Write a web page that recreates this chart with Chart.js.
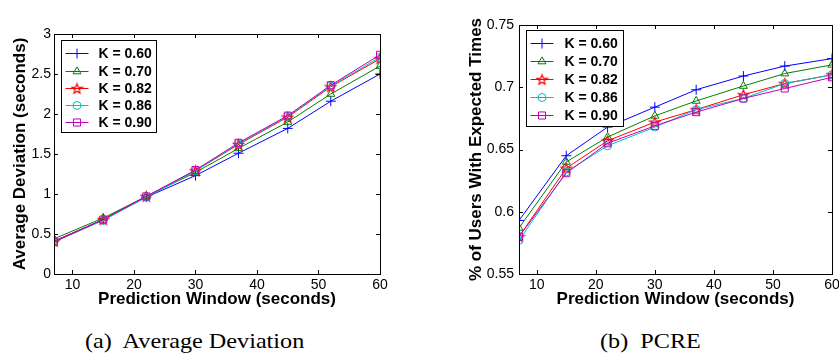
<!DOCTYPE html>
<html>
<head>
<meta charset="utf-8">
<script src="https://cdn.jsdelivr.net/npm/chart.js@4/dist/chart.umd.min.js"></script>
<style>
  html, body { margin: 0; padding: 0; background: #fff; }
  body { width: 839px; height: 358px; position: relative; overflow: hidden; }
  canvas { position: absolute; top: 0; }
  #devChart { left: 0; }
  #pcreChart { left: 418px; }
  .caption {
    position: absolute; top: 328px;
    font-family: "Liberation Serif", "Times New Roman", serif;
    font-size: 22px; color: #000; white-space: pre;
    transform: scaleX(1.1); transform-origin: left top;
  }
</style>
</head>
<body>
<canvas id="devChart" width="418" height="320"></canvas>
<canvas id="pcreChart" width="430" height="320"></canvas>
<div class="caption" style="left:85px">(a)  Average Deviation</div>
<div class="caption" style="left:600px">(b)  PCRE</div>

<script>
// ---- DATA ----
const windows = [7, 15, 22, 30, 37, 45, 52, 60];
const kLabels = ["K = 0.60", "K = 0.70", "K = 0.82", "K = 0.86", "K = 0.90"];
const xTicks = [10, 20, 30, 40, 50, 60];

// (a) average deviation (seconds)
const devK060 = [0.41, 0.68, 0.96, 1.23, 1.51, 1.82, 2.16, 2.50];
const devK070 = [0.44, 0.70, 0.97, 1.27, 1.57, 1.90, 2.25, 2.60];
const devK082 = [0.41, 0.68, 0.97, 1.29, 1.62, 1.96, 2.34, 2.69];
const devK086 = [0.40, 0.67, 0.96, 1.29, 1.63, 1.97, 2.35, 2.71];
const devK090 = [0.40, 0.68, 0.97, 1.30, 1.64, 1.98, 2.36, 2.74];
const devTicks = [0, 0.5, 1, 1.5, 2, 2.5, 3];

// (b) PCRE
const pcreK060 = [0.593, 0.645, 0.668, 0.684, 0.698, 0.709, 0.717, 0.723];
const pcreK070 = [0.587, 0.640, 0.660, 0.677, 0.689, 0.701, 0.711, 0.718];
const pcreK082 = [0.580, 0.635, 0.657, 0.672, 0.682, 0.694, 0.703, 0.710];
const pcreK086 = [0.577, 0.632, 0.653, 0.668, 0.682, 0.691, 0.703, 0.710];
const pcreK090 = [0.580, 0.631, 0.655, 0.669, 0.680, 0.691, 0.699, 0.708];
const pcreTicks = [0.55, 0.6, 0.65, 0.7, 0.75];

// ---- STYLE ----
const colors = ["#0000ff", "#008000", "#ff0000", "#00bfbf", "#bf00bf"];
const FONT = "Arial, 'Liberation Sans', sans-serif";

function makeStar(color) {
  const c = document.createElement("canvas");
  c.width = 13; c.height = 13;
  const g = c.getContext("2d");
  g.strokeStyle = color;
  g.lineWidth = 1.2;
  g.beginPath();
  for (let k = 0; k < 10; k++) {
    const r = k % 2 ? 2.2 : 5.2;
    const a = -Math.PI / 2 + k * Math.PI / 5;
    const px = 6.5 + r * Math.cos(a), py = 7 + r * Math.sin(a);
    if (k) g.lineTo(px, py); else g.moveTo(px, py);
  }
  g.closePath();
  g.stroke();
  return c;
}

const markers = ["cross", "triangle", makeStar("#ff0000"), "circle", "rect"];
const radii = [5, 4.6, 5, 4, 5];

function buildDatasets(series) {
  return series.map((vals, i) => ({
    label: kLabels[i],
    data: vals.map((v, j) => ({ x: windows[j], y: v })),
    borderColor: colors[i],
    backgroundColor: "rgba(0,0,0,0)",
    borderWidth: 1,
    pointStyle: markers[i],
    pointRadius: radii[i],
    pointBorderWidth: 1,
    pointBorderColor: colors[i],
    pointBackgroundColor: "rgba(0,0,0,0)",
    tension: 0,
    order: series.length - i,
  }));
}

// box + inward ticks like matlab
const boxTicks = {
  id: "boxTicks",
  afterDatasetsDraw(chart) {
    const { ctx, chartArea: a, scales } = chart;
    ctx.save();
    ctx.strokeStyle = "#000";
    ctx.lineWidth = 1;
    ctx.beginPath();
    scales.x.ticks.forEach((t) => {
      const px = Math.round(scales.x.getPixelForValue(t.value)) + 0.5;
      ctx.moveTo(px, a.bottom); ctx.lineTo(px, a.bottom - 4);
      ctx.moveTo(px, a.top); ctx.lineTo(px, a.top + 4);
    });
    scales.y.ticks.forEach((t) => {
      const py = Math.round(scales.y.getPixelForValue(t.value)) + 0.5;
      ctx.moveTo(a.left, py); ctx.lineTo(a.left + 4, py);
      ctx.moveTo(a.right, py); ctx.lineTo(a.right - 4, py);
    });
    ctx.stroke();
    ctx.strokeRect(Math.round(a.left) + 0.5, Math.round(a.top) + 0.5,
      Math.round(a.right - a.left), Math.round(a.bottom - a.top));
    ctx.restore();
  },
};

// legend box inside the plot (top-left)
const insideLegend = {
  id: "insideLegend",
  afterDraw(chart, args, opts) {
    const { ctx, chartArea } = chart;
    const x0 = Math.round(chartArea.left + opts.dx) + 0.5;
    const y0 = Math.round(chartArea.top + opts.dy) + 0.5;
    ctx.save();
    ctx.fillStyle = "#fff";
    ctx.fillRect(x0, y0, opts.w, opts.h);
    ctx.strokeStyle = "#000";
    ctx.lineWidth = 1;
    ctx.strokeRect(x0, y0, opts.w, opts.h);
    ctx.font = "bold 14px " + FONT;
    ctx.textBaseline = "middle";
    chart.data.datasets.forEach((ds, i) => {
      const y = Math.round(y0 + opts.first + i * opts.step) + 0.5;
      ctx.strokeStyle = ds.borderColor;
      ctx.lineWidth = 1;
      ctx.beginPath();
      ctx.moveTo(x0 + 4, y);
      ctx.lineTo(x0 + 27, y);
      ctx.stroke();
      ctx.fillStyle = "rgba(0,0,0,0)";
      Chart.helpers.drawPoint(ctx, {
        pointStyle: ds.pointStyle, radius: ds.pointRadius, rotation: 0, borderWidth: 1,
      }, x0 + 15.5, y);
      ctx.fillStyle = "#000";
      ctx.fillText(ds.label, x0 + opts.textX, y + 1);
    });
    ctx.restore();
  },
};

function makeChart(id, series, cfg) {
  return new Chart(document.getElementById(id), {
    type: "line",
    data: { datasets: buildDatasets(series) },
    plugins: [boxTicks, insideLegend],
    options: {
      responsive: false,
      animation: false,
      devicePixelRatio: 1,
      layout: { padding: cfg.padding },
      plugins: {
        legend: { display: false },
        tooltip: { enabled: false },
        insideLegend: cfg.legend,
      },
      scales: {
        x: {
          type: "linear",
          min: 7,
          max: 60,
          afterBuildTicks: (s) => { s.ticks = xTicks.map((v) => ({ value: v })); },
          afterFit: (s) => { s.height = 46; },
          grid: { display: false, drawTicks: false },
          border: { display: false },
          ticks: {
            color: "#000",
            padding: 3,
            font: { family: FONT, size: 14 },
            callback: (v) => String(v),
          },
          title: {
            display: true,
            text: "Prediction Window (seconds)",
            color: "#000",
            font: { family: FONT, size: 17, weight: "bold" },
            padding: { top: 0, bottom: 10 },
          },
        },
        y: {
          min: cfg.yMin,
          max: cfg.yMax,
          afterBuildTicks: (s) => { s.ticks = cfg.yTicks.map((v) => ({ value: v })); },
          afterFit: (s) => { s.width = cfg.yWidth; },
          grid: { display: false, drawTicks: false },
          border: { display: false },
          ticks: {
            color: "#000",
            padding: cfg.yTickPad,
            font: { family: FONT, size: 14 },
            callback: (v) => String(v),
          },
          title: {
            display: true,
            text: cfg.yTitle,
            color: "#000",
            font: { family: FONT, size: 17, weight: "bold" },
            padding: { top: cfg.yTitlePad, bottom: 0 },
          },
        },
      },
    },
  });
}

makeChart("devChart", [devK060, devK070, devK082, devK086, devK090], {
  yMin: 0, yMax: 3, yTicks: devTicks,
  yTitle: "Average Deviation (seconds)",
  yWidth: 54, yTickPad: 3, yTitlePad: 10,
  padding: { left: 0, top: 34, right: 38, bottom: 0 },
  legend: { dx: 7, dy: 6, w: 95, h: 92, first: 12.7, step: 17.3, textX: 37 },
});

makeChart("pcreChart", [pcreK060, pcreK070, pcreK082, pcreK086, pcreK090], {
  yMin: 0.55, yMax: 0.75, yTicks: pcreTicks,
  yTitle: "% of Users With Expected Times",
  yWidth: 101, yTickPad: 5, yTitlePad: 48,
  padding: { left: 0, top: 25, right: 16, bottom: 0 },
  legend: { dx: 7, dy: 5, w: 97, h: 96, first: 12.7, step: 18, textX: 38 },
});
</script>
</body>
</html>
